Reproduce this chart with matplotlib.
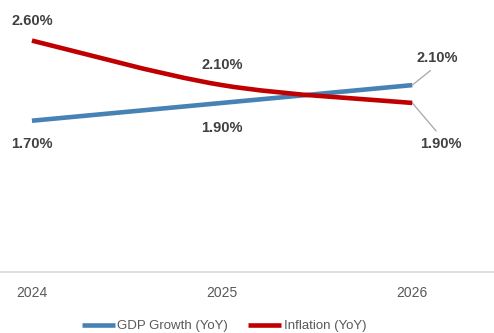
import matplotlib
matplotlib.use("Agg")
import matplotlib.pyplot as plt
from matplotlib.path import Path
from matplotlib.patches import PathPatch
from matplotlib.lines import Line2D

plt.rcParams['font.family'] = ['Liberation Sans', 'DejaVu Sans']

years = ["2024", "2025", "2026"]
gdp = [1.70, 1.90, 2.10]
inflation = [2.60, 2.10, 1.90]

blue = "#4682B4"
red = "#C00000"
label_color = "#404040"

fig = plt.figure(figsize=(4.94, 3.33), dpi=100)
ax = fig.add_axes([0, 0.183, 1, 0.802])

x = list(range(len(years)))

# GDP: straight line
ax.plot(x, gdp, color=blue, lw=3.3, solid_capstyle="butt", zorder=3)

# Inflation: smoothed line (bezier through the points, like Excel "smoothed line")
verts = [(x[0], inflation[0])]
codes = [Path.MOVETO]
n = len(x)
for i in range(n - 1):
    p_prev = (x[max(i - 1, 0)], inflation[max(i - 1, 0)])
    p0 = (x[i], inflation[i])
    p1 = (x[i + 1], inflation[i + 1])
    p_next = (x[min(i + 2, n - 1)], inflation[min(i + 2, n - 1)])
    c1 = (p0[0] + (p1[0] - p_prev[0]) / 6, p0[1] + (p1[1] - p_prev[1]) / 6)
    c2 = (p1[0] - (p_next[0] - p0[0]) / 6, p1[1] - (p_next[1] - p0[1]) / 6)
    verts += [c1, c2, p1]
    codes += [Path.CURVE4] * 3
ax.add_patch(PathPatch(Path(verts, codes), facecolor="none", edgecolor=red,
                       lw=3.3, capstyle="butt", zorder=4))

ax.set_xlim(-0.168, 2.43)
ax.set_ylim(0, 3.0)

# data labels
kw = dict(textcoords="offset pixels", ha="center", va="center",
          fontsize=10.5, fontweight="bold", color=label_color)
ax.annotate(f"{inflation[0]:.2f}%", (x[0], inflation[0]), xytext=(0, 20), **kw)
ax.annotate(f"{gdp[0]:.2f}%", (x[0], gdp[0]), xytext=(0, -23), **kw)
ax.annotate(f"{inflation[1]:.2f}%", (x[1], inflation[1]), xytext=(0, 20), **kw)
ax.annotate(f"{gdp[1]:.2f}%", (x[1], gdp[1]), xytext=(0, -25), **kw)
lead = dict(arrowstyle="-", color="#A6A6A6", lw=0.9, shrinkB=0, shrinkA=3)
ax.annotate(f"{gdp[2]:.2f}%", (x[2], gdp[2]), xytext=(25, 27),
            arrowprops=dict(relpos=(0.5, 0), **lead), **kw)
ax.annotate(f"{inflation[2]:.2f}%", (x[2], inflation[2]), xytext=(29, -41),
            arrowprops=dict(relpos=(0.5, 1), **lead), **kw)

# axes styling
for s in ["left", "right", "top"]:
    ax.spines[s].set_visible(False)
ax.spines["bottom"].set_color("#D9D9D9")
ax.spines["bottom"].set_linewidth(1.2)
ax.set_yticks([])
ax.set_xticks(x)
ax.set_xticklabels(years)
ax.tick_params(axis="x", length=0, pad=10, labelsize=10, labelcolor="#595959")

handles = [Line2D([], [], color=blue, lw=3.3, solid_capstyle="butt"),
           Line2D([], [], color=red, lw=3.3, solid_capstyle="butt")]
fig.legend(handles, ["GDP Growth (YoY)", "Inflation (YoY)"], loc="center",
           bbox_to_anchor=(224 / 494, 1 - 326 / 333), ncol=2, frameon=False,
           fontsize=9.5, handlelength=2.5, handletextpad=0.2, columnspacing=1.5,
           labelcolor="#595959")

fig.savefig("out.png", dpi=100)
